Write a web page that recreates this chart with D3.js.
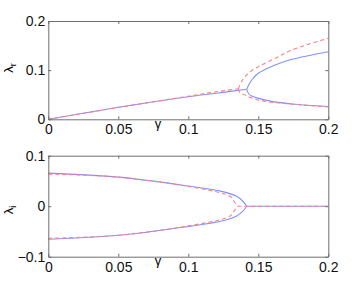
<!DOCTYPE html>
<html>
<head>
<meta charset="utf-8">
<script src="https://cdn.jsdelivr.net/npm/d3@7"></script>
<style>
body { margin: 0; background: #fff; }
text { font-family: "Liberation Sans", Arial, sans-serif; }
</style>
</head>
<body>
<script>
// top panel: real part, before / after bifurcation
var blueRealBefore = [[0, 0], [0.05, 0.0244], [0.1, 0.046], [0.12, 0.053], [0.1417, 0.061]];
var blueRealUpper = [[0.1417, 0.061], [0.1435, 0.072], [0.1453, 0.080], [0.15, 0.0936], [0.162, 0.1105], [0.174, 0.122], [0.2, 0.1376]];
var blueRealLower = [[0.1417, 0.061], [0.1432, 0.052], [0.1453, 0.0474], [0.157, 0.038], [0.174, 0.031], [0.2, 0.026]];
var redRealBefore = [[0, 0], [0.05, 0.024], [0.1, 0.047], [0.12, 0.056], [0.1357, 0.062]];
var redRealUpper = [[0.1357, 0.062], [0.138, 0.0765], [0.1429, 0.0936], [0.15, 0.107], [0.162, 0.124], [0.174, 0.141], [0.2, 0.165]];
var redRealLower = [[0.1357, 0.062], [0.137, 0.054], [0.1405, 0.0494], [0.15, 0.039], [0.174, 0.031], [0.2, 0.025]];

// bottom panel: imaginary part
var blueImag = [[0, 0.0655], [0.05, 0.0576], [0.1, 0.04], [0.1239, 0.0294], [0.1345, 0.0196], [0.139, 0.0098], [0.1417, 0]];
var redImag = [[0, 0.0635], [0.05, 0.0576], [0.1, 0.039], [0.1237, 0.026], [0.1298, 0.0196], [0.1326, 0.0098], [0.135, 0]];
var blueFlat = [[0.1417, 0], [0.2, 0]];
var redFlat = [[0.135, 0], [0.2, 0]];

var xTicks = [0, 0.05, 0.1, 0.15, 0.2];
var yTicksTop = [0, 0.1, 0.2];
var yTicksBottom = [-0.1, 0, 0.1];

var width = 363, height = 288;
var svg = d3.select("body").append("svg")
    .attr("width", width)
    .attr("height", height);

var xScale = d3.scaleLinear().domain([0, 0.2]).range([48.3, 328.3]);

function mirror(pts) {
    return pts.map(function (d) { return [d[0], -d[1]]; });
}

function drawPanel(yDomain, yRange, yTicks, ylabelSub, labelY, blueSets, redSets) {
    var yScale = d3.scaleLinear().domain(yDomain).range(yRange);
    var g = svg.append("g");

    var line = d3.line()
        .x(function (d) { return xScale(d[0]); })
        .y(function (d) { return yScale(d[1]); })
        .curve(d3.curveCatmullRom);

    blueSets.forEach(function (s) {
        g.append("path")
            .attr("d", line(s))
            .attr("fill", "none")
            .attr("stroke", "#8090ff")
            .attr("stroke-width", 1.1);
    });
    redSets.forEach(function (s) {
        g.append("path")
            .attr("d", line(s))
            .attr("fill", "none")
            .attr("stroke", "#ff7f86")
            .attr("stroke-width", 1.1)
            .attr("stroke-dasharray", "4,3");
    });

    var fmt = function (d) { return d < 0 ? "\u2212" + Math.abs(d) : String(d); };

    var xAxis = d3.axisBottom(xScale).tickValues(xTicks).tickSizeInner(-3).tickSizeOuter(0)
        .tickPadding(5).tickFormat(fmt);
    var xAxisTop = d3.axisTop(xScale).tickValues(xTicks).tickSizeInner(-3).tickSizeOuter(0)
        .tickFormat("");
    var yAxis = d3.axisLeft(yScale).tickValues(yTicks).tickSizeInner(-3).tickSizeOuter(0)
        .tickPadding(3).tickFormat(fmt);
    var yAxisRight = d3.axisRight(yScale).tickValues(yTicks).tickSizeInner(-3).tickSizeOuter(0)
        .tickFormat("");

    g.append("g").attr("transform", "translate(0," + yRange[0] + ")").call(xAxis);
    g.append("g").attr("transform", "translate(0," + yRange[1] + ")").call(xAxisTop);
    g.append("g").attr("transform", "translate(" + xScale.range()[0] + ",0)").call(yAxis);
    g.append("g").attr("transform", "translate(" + xScale.range()[1] + ",0)").call(yAxisRight);

    g.selectAll(".domain, .tick line").attr("stroke", "#6e6e6e");
    g.selectAll(".tick text").attr("fill", "#111").style("font-size", "14px");

    // gamma label
    g.append("text")
        .attr("x", 158)
        .attr("y", yRange[0] + 8.5)
        .attr("text-anchor", "middle")
        .style("font-size", "13px")
        .text("\u03b3");

    var lab = g.append("text")
        .attr("transform", "translate(13," + labelY + ") rotate(-90)")
        .attr("text-anchor", "middle")
        .style("font-size", "13px");
    lab.append("tspan").text("\u03bb");
    lab.append("tspan").attr("dy", 3).style("font-size", "9px").text(ylabelSub);
}

drawPanel([0, 0.2], [119.3, 21], yTicksTop, "r", 68,
    [blueRealBefore, blueRealUpper, blueRealLower],
    [redRealBefore, redRealUpper, redRealLower]);

drawPanel([-0.1, 0.1], [256.7, 155.7], yTicksBottom, "i", 210,
    [blueImag, mirror(blueImag), blueFlat],
    [redImag, mirror(redImag), redFlat]);
</script>
</body>
</html>
